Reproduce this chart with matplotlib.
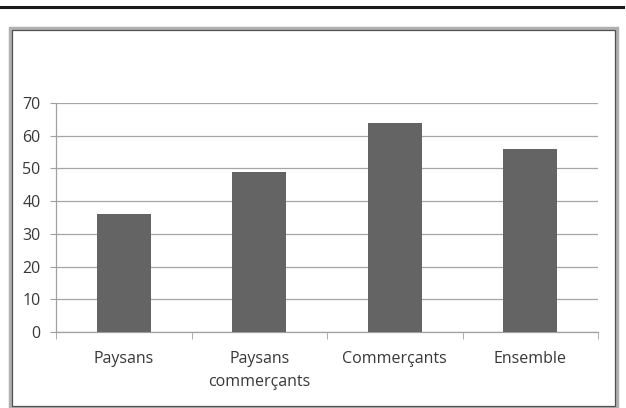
import matplotlib.pyplot as plt
from matplotlib.patches import Rectangle
from matplotlib.lines import Line2D

categories = ['Paysans', 'Paysans\ncommerçants', 'Commerçants', 'Ensemble']
values = [36, 49, 64, 56]
yticks = [0, 10, 20, 30, 40, 50, 60, 70]

plt.rcParams['font.family'] = ['Open Sans', 'DejaVu Sans']

fig = plt.figure(figsize=(6.26, 4.08), dpi=100)

# top rule and chart frame
fig.add_artist(Line2D([0.0, 0.995], [0.984, 0.984], color='#1a1a1a', lw=2.2))
fig.add_artist(Rectangle((10 / 626, 0.0), 607 / 626, 380 / 408, fill=False,
                         edgecolor='#b0b0b0', lw=2.5))
fig.add_artist(Rectangle((12 / 626, 0.004), 603 / 626, 376 / 408, fill=False,
                         edgecolor='#505050', lw=0.9))

ax = fig.add_axes([56 / 626, 76 / 408, 542 / 626, 229 / 408])
x = range(len(categories))
ax.bar(x, values, width=0.4, color='#646464', zorder=3)

ax.set_xlim(-0.5, len(categories) - 0.5)
ax.set_ylim(0, 70)
ax.set_yticks(yticks)
ax.yaxis.grid(True, color='#a6a6a6', lw=0.9)
ax.set_axisbelow(True)

ax.set_xticks(list(x))
ax.set_xticklabels(categories, fontsize=11.5, color='#383838', linespacing=1.55)
ax.set_xticks([i - 0.5 for i in range(len(categories) + 1)], minor=True)
ax.tick_params(axis='x', which='major', length=0, pad=14)
ax.tick_params(axis='x', which='minor', length=5, color='#a0a0a0')
ax.tick_params(axis='y', length=4, color='#a0a0a0', labelsize=11.5,
               labelcolor='#383838', pad=7)

for s in ['top', 'right']:
    ax.spines[s].set_visible(False)
for s in ['left', 'bottom']:
    ax.spines[s].set_color('#a0a0a0')
    ax.spines[s].set_linewidth(0.9)

fig.savefig('out.png', dpi=100)
